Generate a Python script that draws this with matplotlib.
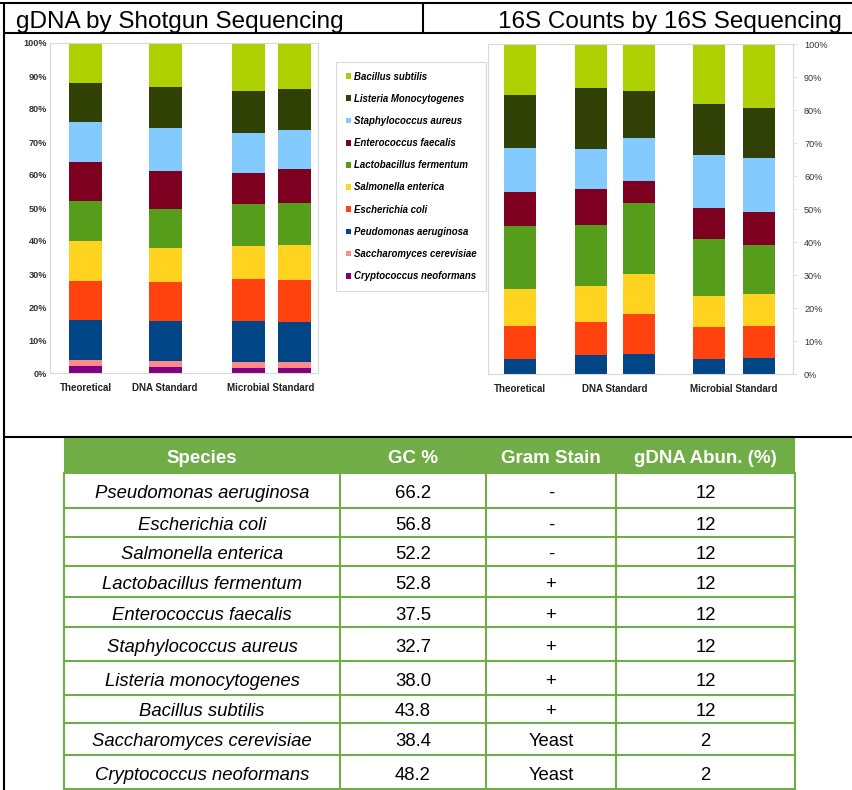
import matplotlib
matplotlib.use("Agg")
import matplotlib.pyplot as plt
from matplotlib.patches import Patch, Rectangle
import numpy as np

W, H = 853, 790

# ---------------- data ----------------
species = ["Cryptococcus neoformans", "Saccharomyces cerevisiae", "Peudomonas aeruginosa",
           "Escherichia coli", "Salmonella enterica", "Lactobacillus fermentum",
           "Enterococcus faecalis", "Staphylococcus aureus", "Listeria Monocytogenes",
           "Bacillus subtilis"]
colors = ["#7E0080", "#FF8A8A", "#004586", "#FF420E", "#FFD320", "#579D1C",
          "#7E0021", "#83CAFF", "#314004", "#AECF00"]

# segment sizes (%) per bar, ordered as `species` (bottom to top)
gdna_theoretical = [2, 2, 12, 12, 12, 12, 12, 12, 12, 12]
gdna_dna_std     = [1.8, 1.9, 12.2, 11.7, 10.2, 11.9, 11.4, 13.0, 12.6, 13.3]
gdna_microbial_1 = [1.5, 1.8, 12.4, 12.7, 10.1, 12.6, 9.5, 12.2, 12.7, 14.5]
gdna_microbial_2 = [1.5, 1.8, 12.2, 12.6, 10.8, 12.6, 10.3, 11.7, 12.6, 13.9]

s16_theoretical = [0, 0, 4.5, 10.1, 11.2, 18.9, 10.4, 13.3, 16.0, 15.6]
s16_dna_std_1   = [0, 0, 5.7, 10.2, 10.9, 18.3, 10.9, 12.2, 18.4, 13.4]
s16_dna_std_2   = [0, 0, 6.0, 12.3, 12.0, 21.5, 6.6, 13.0, 14.4, 14.2]
s16_microbial_1 = [0, 0, 4.6, 9.5, 9.4, 17.4, 9.4, 16.1, 15.4, 18.2]
s16_microbial_2 = [0, 0, 4.9, 9.6, 9.8, 14.9, 9.8, 16.5, 15.0, 19.5]

groups = ["Theoretical", "DNA Standard", "Microbial Standard"]
gdna_group_of_bar = [0, 1, 2, 2]
s16_group_of_bar = [0, 1, 1, 2, 2]
yticks = [0, 10, 20, 30, 40, 50, 60, 70, 80, 90, 100]

table_cols = ["Species", "GC %", "Gram Stain", "gDNA Abun. (%)"]
table_species = ["Pseudomonas aeruginosa", "Escherichia coli", "Salmonella enterica",
                 "Lactobacillus fermentum", "Enterococcus faecalis", "Staphylococcus aureus",
                 "Listeria monocytogenes", "Bacillus subtilis", "Saccharomyces cerevisiae",
                 "Cryptococcus neoformans"]
table_gc = ["66.2", "56.8", "52.2", "52.8", "37.5", "32.7", "38.0", "43.8", "38.4", "48.2"]
table_gram = ["-", "-", "-", "+", "+", "+", "+", "+", "Yeast", "Yeast"]
table_abund = ["12", "12", "12", "12", "12", "12", "12", "12", "2", "2"]

# ---------------- figure ----------------
plt.rcParams['font.family'] = ['Liberation Sans', 'DejaVu Sans']
fig = plt.figure(figsize=(W / 100, H / 100), dpi=100)

def px_axes(x0, y0, x1, y1, **kw):
    return fig.add_axes([x0 / W, 1 - y1 / H, (x1 - x0) / W, (y1 - y0) / H], **kw)

ov = px_axes(0, 0, W, H)
ov.set_xlim(0, W)
ov.set_ylim(H, 0)
ov.axis("off")
ov.set_zorder(0)

lw_frame = 1.5
ov.plot([0, W], [3, 3], color="black", lw=lw_frame, solid_capstyle="butt")
ov.plot([4, W], [33, 33], color="black", lw=lw_frame, solid_capstyle="butt")
ov.plot([423, 423], [3, 33], color="black", lw=lw_frame, solid_capstyle="butt")
ov.plot([4, 4], [3, H], color="black", lw=lw_frame, solid_capstyle="butt")
ov.plot([4, W], [437, 437], color="black", lw=lw_frame, solid_capstyle="butt")

ov.text(16, 28, "gDNA by Shotgun Sequencing", fontsize=17.5, ha="left", va="baseline")
ov.text(842, 28, "16S Counts by 16S Sequencing", fontsize=17.5, ha="right", va="baseline")


def bar_chart(ax, bars, xpos, width, group_of_bar):
    data = np.array(bars, dtype=float)  # bars x species
    bottoms = np.zeros(len(bars))
    for j in range(len(species)):
        ax.bar(xpos, data[:, j], width=width, bottom=bottoms, color=colors[j],
               edgecolor="none", zorder=2)
        bottoms += data[:, j]
    ax.set_ylim(0, 100)
    ax.set_yticks(yticks)
    ax.set_yticklabels([f"{t}%" for t in yticks])
    gpos = [np.mean([xpos[i] for i in range(len(xpos)) if group_of_bar[i] == g])
            for g in range(len(groups))]
    ax.set_xticks(gpos)
    ax.set_xticklabels(groups)
    ax.tick_params(axis="x", length=0, pad=7.5, labelsize=7, labelcolor="#222222")
    for lab in ax.get_xticklabels():
        lab.set_fontweight("bold")
    for lab in ax.get_yticklabels():
        lab.set_fontweight("bold")
    for s in ax.spines.values():
        s.set_color("#D9D9D9")
        s.set_linewidth(0.8)


# left chart
axL = px_axes(50, 43, 318, 373)
bar_chart(axL, [gdna_theoretical, gdna_dna_std, gdna_microbial_1, gdna_microbial_2],
          [85.5, 165, 248, 294], 33, gdna_group_of_bar)
axL.set_xlim(50, 318)
axL.tick_params(axis="y", length=0, pad=2, labelsize=6.6, labelcolor="#333333")

# right chart
axR = px_axes(488, 44, 793, 374)
bar_chart(axR, [s16_theoretical, s16_dna_std_1, s16_dna_std_2, s16_microbial_1, s16_microbial_2],
          [520, 591, 639, 709, 759], 32, s16_group_of_bar)
axR.set_xlim(488, 793)
axR.yaxis.tick_right()
axR.tick_params(axis="y", length=3, width=0.6, color="#D9D9D9", pad=5,
                labelsize=6.6, labelcolor="#333333")

# legend
handles = [Patch(facecolor=colors[j], edgecolor="none") for j in range(len(species))][::-1]
labels = species[::-1]
leg = fig.legend(handles, labels, loc="upper left", bbox_to_anchor=(336 / W, 1 - 62 / H),
                 frameon=True, fancybox=False, edgecolor="#D9D9D9", framealpha=1,
                 prop={"size": 6.9, "weight": "bold", "style": "italic"},
                 handlelength=0.55, handleheight=0.55, handletextpad=0.3,
                 labelspacing=1.27, borderpad=1.0, borderaxespad=0)
leg.get_frame().set_linewidth(0.8)

# table
col_edges = [64, 340, 486, 616, 795]
row_edges = [438, 473, 508, 537, 566, 597, 627, 661, 695, 723, 755, 789]
green = "#70AD47"
ov.add_patch(Rectangle((col_edges[0], row_edges[0]), col_edges[-1] - col_edges[0],
                       row_edges[1] - row_edges[0], facecolor=green, edgecolor="none", zorder=1))
for c, name in enumerate(table_cols):
    xc = (col_edges[c] + col_edges[c + 1]) / 2
    yc = (row_edges[0] + row_edges[1]) / 2
    ov.text(xc, yc + 3, name, ha="center", va="center", color="white",
            fontsize=13.5, fontweight="bold", zorder=3)

cols_data = [table_species, table_gc, table_gram, table_abund]
for r in range(len(table_species)):
    yc = (row_edges[r + 1] + row_edges[r + 2]) / 2
    for c in range(4):
        xc = (col_edges[c] + col_edges[c + 1]) / 2
        ov.text(xc, yc + 3, cols_data[c][r], ha="center", va="center", color="black",
                fontsize=13.3, style="italic" if c == 0 else "normal", zorder=3)

lw_t = 1.5
for y in row_edges[1:]:
    ov.plot([col_edges[0], col_edges[-1]], [y, y], color=green, lw=lw_t, zorder=2,
            solid_capstyle="projecting")
for x in col_edges:
    ov.plot([x, x], [row_edges[1], row_edges[-1]], color=green, lw=lw_t, zorder=2,
            solid_capstyle="projecting")

fig.savefig("out.png", dpi=100)
